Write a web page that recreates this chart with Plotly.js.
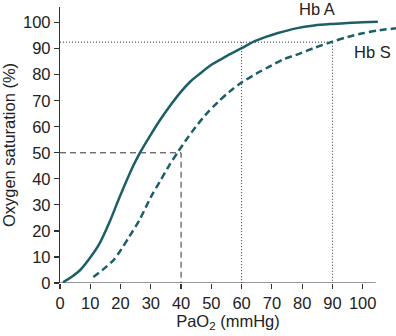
<!DOCTYPE html>
<html>
<head>
<meta charset="utf-8">
<script src="https://cdn.plot.ly/plotly-3.0.1.min.js"></script>
<style>html,body{margin:0;padding:0;background:#fff;}#chart{width:396px;height:336px;}</style>
</head>
<body>
<div id="chart"></div>
<script>
// Hb A (normal haemoglobin) dissociation curve
const hbA_x = [1, 4, 6.6, 10, 13, 16.4, 19.7, 24.2, 26.4, 30, 33, 36, 40, 43, 46, 50, 53, 56, 60, 64, 68, 72, 78, 84, 90, 95, 100, 105];
const hbA_y = [0.3, 2.5, 4.9, 9.8, 15, 23.5, 33, 45, 50, 57, 62.5, 67.5, 73.5, 77.3, 80.2, 83.8, 85.8, 87.8, 90.2, 92.7, 94.5, 96, 97.8, 98.9, 99.5, 99.9, 100.1, 100.3];
// Hb S (sickle haemoglobin) dissociation curve
const hbS_x = [11, 14, 17.6, 20, 23, 26.4, 30, 33, 36, 39, 42, 44, 48, 52, 56, 60, 65, 69, 74, 78, 84, 90, 95, 100, 105, 111];
const hbS_y = [2.3, 5, 8.7, 12.5, 18, 24.5, 33, 39, 45, 50.4, 55.5, 58.7, 64.5, 69.3, 73.5, 77, 80.5, 83, 86, 87.6, 90.3, 92.7, 94.5, 95.9, 97, 97.8];
// Reference guide lines
const p50_x = [0, 40, 40];
const p50_y = [50, 50, 0];
const sat_x = [0, 90, 90];
const sat_y = [92.5, 92.5, 0];
const pa60_x = [60, 60];
const pa60_y = [92.5, 0];
// Axis ticks
const xTicks = [0, 10, 20, 30, 40, 50, 60, 70, 80, 90, 100];
const yTicks = [0, 10, 20, 30, 40, 50, 60, 70, 80, 90, 100];
const labels = ["Hb A", "Hb S"];

const teal = '#1c5f66';
const gray = '#333333';
const font = 'Liberation Sans, Arial, sans-serif';
const fs = 16.5;

const traces = [
  {x: p50_x, y: p50_y, mode: 'lines', line: {color: gray, width: 1, dash: '6px,4px'}, hoverinfo: 'skip'},
  {x: sat_x, y: sat_y, mode: 'lines', line: {color: gray, width: 1, dash: '1px,2px'}, hoverinfo: 'skip'},
  {x: pa60_x, y: pa60_y, mode: 'lines', line: {color: gray, width: 1, dash: '1px,2px'}, hoverinfo: 'skip'},
  {x: hbA_x, y: hbA_y, mode: 'lines', line: {color: teal, width: 2.5, shape: 'spline', smoothing: 0.8}, name: labels[0]},
  {x: hbS_x, y: hbS_y, mode: 'lines', line: {color: teal, width: 2.5, shape: 'spline', smoothing: 0.8, dash: '7px,4px'}, name: labels[1]}
];

const layout = {
  width: 396, height: 336,
  margin: {l: 60, r: 0, t: 7, b: 53},
  paper_bgcolor: '#fff', plot_bgcolor: '#fff',
  showlegend: false,
  font: {family: font, size: fs, color: '#222'},
  xaxis: {
    range: [0, 111], tickvals: xTicks, ticktext: xTicks.map(String),
    showgrid: false, zeroline: false, showline: false,
    ticks: 'outside', ticklen: 5, tickwidth: 1.2, tickcolor: gray,
    tickfont: {family: font, size: fs, color: '#222'},
    title: {text: 'PaO<sub>2</sub> (mmHg)', font: {family: font, size: fs, color: '#222'}, standoff: 0}
  },
  yaxis: {
    range: [0, 106], tickvals: yTicks, ticktext: yTicks.map(String),
    showgrid: false, zeroline: false, showline: true, linecolor: gray, linewidth: 1.2,
    ticks: 'outside', ticklen: 5, tickwidth: 1.2, tickcolor: gray,
    tickfont: {family: font, size: fs, color: '#222'},
    title: {text: 'Oxygen saturation (%)', font: {family: font, size: fs, color: '#222'}, standoff: 4}
  },
  shapes: [
    {type: 'line', xref: 'x', yref: 'y', x0: 0, x1: 104.3, y0: 0, y1: 0, line: {color: gray, width: 1.2}}
  ],
  annotations: [
    {x: 85, y: 105.3, xref: 'x', yref: 'y', text: labels[0], showarrow: false, font: {family: font, size: fs, color: '#222'}},
    {x: 103.2, y: 88.8, xref: 'x', yref: 'y', text: labels[1], showarrow: false, font: {family: font, size: fs, color: '#222'}}
  ]
};

Plotly.newPlot('chart', traces, layout, {displayModeBar: false, staticPlot: true});
</script>
</body>
</html>
